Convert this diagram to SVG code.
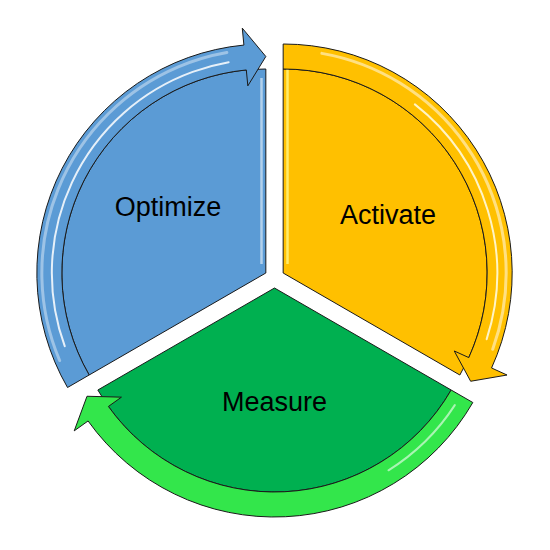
<svg xmlns="http://www.w3.org/2000/svg" width="550" height="550" viewBox="0 0 550 550">
  <style>
    .outline { stroke: #1a1a1a; stroke-width: 1; stroke-linejoin: round; }
    .label { font-family: "Liberation Sans", Arial, sans-serif; font-size: 27px; fill: #000; text-anchor: middle; }
    .hl { fill: none; stroke-linecap: round; }
  </style>
  <rect width="550" height="550" fill="#ffffff"/>

  <g id="optimize">
    <path class="outline" fill="#5B9BD5" d="M265.84,273 L89.17,375 A204,204 0 0 1 265.84,69 Z"/>
    <line x1="261.5" y1="78" x2="261.5" y2="264" stroke="#BDD7EE" stroke-width="2.5" opacity="0.9"/>
    <path class="outline" fill="#5B9BD5" d="M67.52,387.5 A229,229 0 0 1 243.9,45.06 L242.27,28.13 L265.84,56.5 L247.83,85.86 L246.3,69.94 A204,204 0 0 0 89.17,375 Z"/>
    <g transform="translate(265.84,273)">
      <circle class="hl" r="224" stroke="#9DC3E6" stroke-width="3" pathLength="360" stroke-dasharray="103 360" transform="rotate(157)"/>
      <circle class="hl" r="214" stroke="#ffffff" stroke-width="2" opacity="0.85" pathLength="360" stroke-dasharray="100 360" transform="rotate(160)"/>
    </g>
    <text class="label" x="168" y="216">Optimize</text>
  </g>

  <g id="activate">
    <path class="outline" fill="#FFC000" d="M283.16,273 L283.16,69 A204,204 0 0 1 459.83,375 Z"/>
    <line x1="287.5" y1="50" x2="287.5" y2="264" stroke="#FFF176" stroke-width="2.5" opacity="0.9"/>
    <path class="outline" fill="#FFC000" d="M283.16,44 A229,229 0 0 1 491.55,367.97 L507.02,375.02 L470.65,381.25 L454.24,350.96 L468.8,357.6 A204,204 0 0 0 283.16,69 Z"/>
    <g transform="translate(283.16,273)">
      <circle class="hl" r="223" stroke="#FFE082" stroke-width="3" pathLength="360" stroke-dasharray="100 360" transform="rotate(-80)"/>
      <circle class="hl" r="214" stroke="#FFFDE7" stroke-width="2" opacity="0.85" pathLength="360" stroke-dasharray="70 360" transform="rotate(-52)"/>
    </g>
    <text class="label" x="388" y="224">Activate</text>
  </g>

  <g id="measure">
    <path class="outline" fill="#00B050" d="M274.5,288 L451.17,390 A204,204 0 0 1 97.83,390 Z"/>
    <path class="outline" fill="#33E64B" d="M472.82,402.5 A229,229 0 0 1 88.07,420.98 L74.23,430.85 L87.01,396.25 L121.45,397.17 L108.42,406.46 A204,204 0 0 0 451.17,390 Z"/>
    <g transform="translate(274.5,288)">
      <circle class="hl" r="215" stroke="#C8F7CD" stroke-width="2" opacity="0.8" pathLength="360" stroke-dasharray="25 360" transform="rotate(33)"/>
    </g>
    <text class="label" x="274.5" y="411">Measure</text>
  </g>
</svg>
